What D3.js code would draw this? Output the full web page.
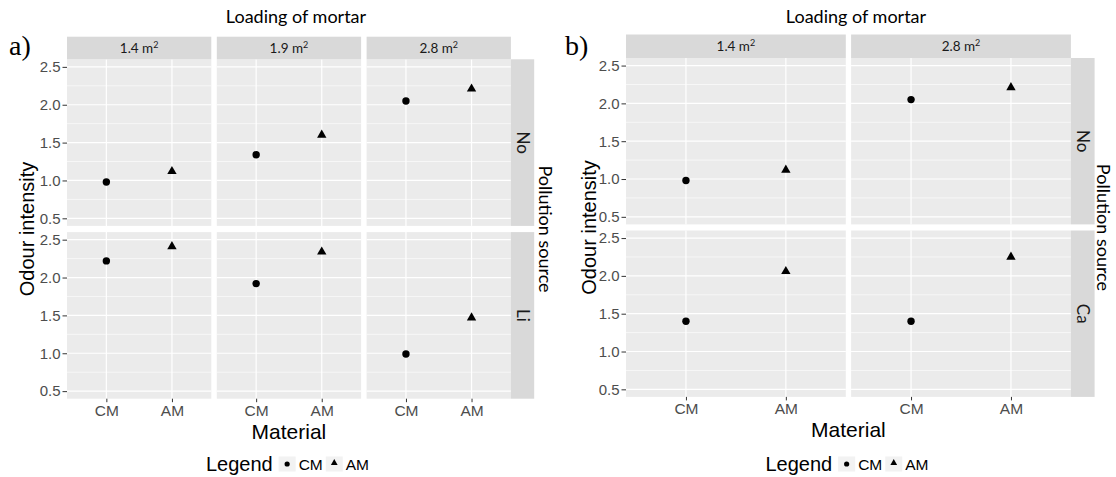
<!DOCTYPE html>
<html><head><meta charset="utf-8">
<script src="https://cdn.jsdelivr.net/npm/d3@7"></script>
<style>body{margin:0;background:#fff} svg{display:block}</style>
</head><body>
<svg id="c" width="1116" height="477"></svg>
<script>
// ---- data ----
const materials = ["CM", "AM"];
const yTicks = [0.5, 1.0, 1.5, 2.0, 2.5];
const yMinor = [0.75, 1.25, 1.75, 2.25];
const yLimits = [0.4, 2.6];

const loadingsA = ["1.4", "1.9", "2.8"];
const sourcesA = ["No", "Li"];
const cmA_No = [0.98, 1.34, 2.05];
const amA_No = [1.12, 1.60, 2.21];
const cmA_Li = [2.22, 1.92, 0.99];
const amA_Li = [2.41, 2.34, 1.47];

const loadingsB = ["1.4", "2.8"];
const sourcesB = ["No", "Ca"];
const cmB_No = [0.98, 2.05];
const amB_No = [1.12, 2.21];
const cmB_Ca = [1.40, 1.40];
const amB_Ca = [2.06, 2.25];

const svg = d3.select("#c");
const SANS = "'Liberation Sans', Arial, sans-serif";
const CAL = "Lato, 'Open Sans', sans-serif";

function drawFacet(cfg) {
  const g = svg.append("g");
  const nC = cfg.loadings.length, nR = cfg.sources.length;
  const x = d3.scalePoint().domain(materials).range([0, cfg.colW]).padding(0.6);
  const y = d3.scaleLinear().domain(yLimits).range([cfg.rowH, 0]);
  const plotR = cfg.left + nC * cfg.colW + (nC - 1) * cfg.colGap;
  const panelsMid = (cfg.left + plotR) / 2;

  cfg.sources.forEach((src, ri) => {
    const py = cfg.top + ri * (cfg.rowH + cfg.rowGap);
    cfg.loadings.forEach((ld, ci) => {
      const px = cfg.left + ci * (cfg.colW + cfg.colGap);
      const p = g.append("g").attr("transform", `translate(${px},${py})`);
      p.append("rect").attr("width", cfg.colW).attr("height", cfg.rowH).attr("fill", "#EBEBEB");
      p.selectAll(".mn").data(yMinor).join("line")
        .attr("x1", 0).attr("x2", cfg.colW)
        .attr("y1", d => y(d)).attr("y2", d => y(d))
        .attr("stroke", "#fff").attr("stroke-width", 0.6);
      p.selectAll(".mj").data(yTicks).join("line")
        .attr("x1", 0).attr("x2", cfg.colW)
        .attr("y1", d => y(d)).attr("y2", d => y(d))
        .attr("stroke", "#fff").attr("stroke-width", 1.2);
      p.selectAll(".vx").data(materials).join("line")
        .attr("x1", d => x(d)).attr("x2", d => x(d))
        .attr("y1", 0).attr("y2", cfg.rowH)
        .attr("stroke", "#fff").attr("stroke-width", 1.2);
      const vals = cfg.values[src];
      p.append("circle").attr("cx", x("CM")).attr("cy", y(vals.CM[ci])).attr("r", 3.7).attr("fill", "#000");
      p.append("path").attr("d", d3.symbol(d3.symbolTriangle, 38)())
        .attr("transform", `translate(${x("AM")},${y(vals.AM[ci])})`).attr("fill", "#000");

      if (ci === 0) {
        const ax = p.append("g").call(d3.axisLeft(y).tickValues(yTicks).tickFormat(d3.format(".1f")).tickSize(4.5).tickPadding(2));
        ax.select(".domain").remove();
        ax.selectAll("line").attr("stroke", "#333").attr("stroke-width", 1);
        ax.selectAll("text").attr("fill", "#4D4D4D").style("font-family", SANS).style("font-size", "15px");
      }
      if (ri === nR - 1) {
        const ax = p.append("g").attr("transform", `translate(0,${cfg.rowH})`)
          .call(d3.axisBottom(x).tickSize(3.5).tickPadding(3));
        ax.select(".domain").remove();
        ax.selectAll("line").attr("stroke", "#333").attr("stroke-width", 1);
        ax.selectAll("text").attr("fill", "#4D4D4D").style("font-family", SANS).style("font-size", "15.5px");
      }
      if (ri === 0) {
        const s = g.append("g").attr("transform", `translate(${px},${py - cfg.stripH})`);
        s.append("rect").attr("width", cfg.colW).attr("height", cfg.stripH).attr("fill", "#D9D9D9");
        const t = s.append("text").attr("x", cfg.colW / 2).attr("y", cfg.stripH / 2 + 5)
          .attr("text-anchor", "middle").attr("fill", "#1A1A1A")
          .style("font-family", CAL).style("font-size", "13.5px");
        t.append("tspan").text(ld + " m");
        t.append("tspan").attr("dy", -5).style("font-size", "9px").text("2");
      }
    });
    const s = g.append("g").attr("transform", `translate(${plotR},${py})`);
    s.append("rect").attr("width", cfg.stripW).attr("height", cfg.rowH).attr("fill", "#D9D9D9");
    s.append("text").attr("transform", `translate(${cfg.stripW / 2},${cfg.rowH / 2}) rotate(90)`)
      .attr("text-anchor", "middle").attr("dy", "0.35em").attr("fill", "#1A1A1A")
      .style("font-family", CAL).style("font-size", "17px").text(src);
  });

  const plotB = cfg.top + nR * cfg.rowH + (nR - 1) * cfg.rowGap;
  const midY = (cfg.top + plotB) / 2;

  g.append("text").attr("x", cfg.labX).attr("y", cfg.labY)
    .style("font-family", "'Liberation Serif', 'Times New Roman', serif").style("font-size", "28px")
    .attr("fill", "#000").text(cfg.label);
  g.append("text").attr("x", cfg.titleX).attr("y", 23).attr("text-anchor", "middle")
    .style("font-family", CAL).style("font-size", "18px").attr("fill", "#000").text("Loading of mortar");
  g.append("text").attr("transform", `translate(${cfg.yTitleX},${midY}) rotate(-90)`)
    .attr("text-anchor", "middle").attr("dy", "0.35em")
    .style("font-family", SANS).style("font-size", "20px").attr("fill", "#000").text("Odour intensity");
  g.append("text").attr("transform", `translate(${cfg.srcTitleX},${midY}) rotate(90)`)
    .attr("text-anchor", "middle").attr("dy", "0.35em")
    .style("font-family", CAL).style("font-size", "18px").attr("fill", "#000").text("Pollution source");
  g.append("text").attr("x", panelsMid).attr("y", plotB + 40).attr("text-anchor", "middle")
    .style("font-family", SANS).style("font-size", "21px").attr("fill", "#000").text("Material");

  // legend
  const lg = g.append("g");
  const ly = 464;
  const legT = lg.append("text").attr("y", ly + 7).style("font-family", SANS).style("font-size", "20px")
    .attr("fill", "#000").text("Legend");
  const wL = legT.node().getComputedTextLength();
  const keyW = 17, keyH = 15;
  const widths = materials.map(m => {
    const t = lg.append("text").style("font-family", SANS).style("font-size", "15.5px").text(m);
    const w = t.node().getComputedTextLength(); t.remove(); return w;
  });
  const total = wL + 6 + materials.reduce((a, m, i) => a + keyW + 3 + widths[i] + 3, 0);
  let cx = panelsMid - total / 2;
  legT.attr("x", cx);
  cx += wL + 6;
  materials.forEach((m, i) => {
    lg.append("rect").attr("x", cx).attr("y", ly - keyH / 2).attr("width", keyW).attr("height", keyH).attr("fill", "#F2F2F2");
    if (m === "CM") {
      lg.append("circle").attr("cx", cx + keyW / 2).attr("cy", ly).attr("r", 2.6).attr("fill", "#000");
    } else {
      lg.append("path").attr("d", d3.symbol(d3.symbolTriangle, 20)())
        .attr("transform", `translate(${cx + keyW / 2},${ly - 1})`).attr("fill", "#000");
    }
    cx += keyW + 3;
    lg.append("text").attr("x", cx).attr("y", ly + 5.5).style("font-family", SANS).style("font-size", "15.5px")
      .attr("fill", "#000").text(m);
    cx += widths[i] + 3;
  });
}

drawFacet({
  label: "a)", labX: 9, labY: 55,
  left: 67, top: 59.3, colW: 144.3, colGap: 5.5, rowH: 166.6, rowGap: 6.2,
  stripH: 22.6, stripW: 23.3,
  loadings: loadingsA, sources: sourcesA,
  values: { No: { CM: cmA_No, AM: amA_No }, Li: { CM: cmA_Li, AM: amA_Li } },
  titleX: 296, yTitleX: 27, srcTitleX: 545
});
drawFacet({
  label: "b)", labX: 565, labY: 55,
  left: 626, top: 58, colW: 219.8, colGap: 5.3, rowH: 166.4, rowGap: 6.1,
  stripH: 23.5, stripW: 23.7,
  loadings: loadingsB, sources: sourcesB,
  values: { No: { CM: cmB_No, AM: amB_No }, Ca: { CM: cmB_Ca, AM: amB_Ca } },
  titleX: 856, yTitleX: 589, srcTitleX: 1103
});
</script>
</body></html>
